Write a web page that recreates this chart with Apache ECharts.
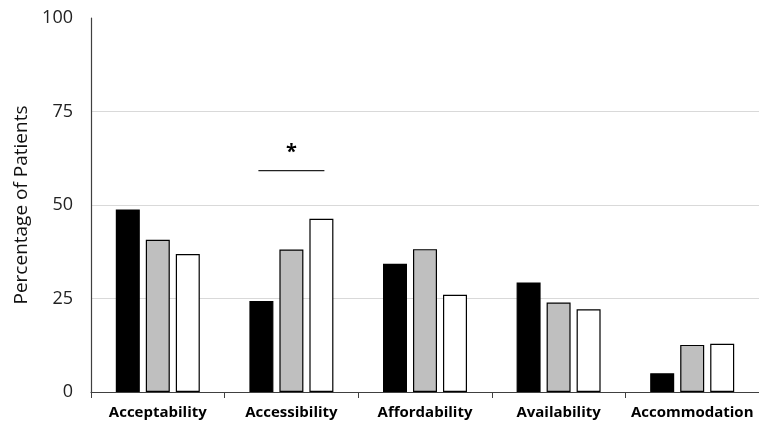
<!DOCTYPE html>
<html><head><meta charset="utf-8">
<script src="https://cdn.jsdelivr.net/npm/echarts@6/dist/echarts.min.js"></script>
<style>html,body{margin:0;padding:0;background:#fff}#c{width:759px;height:426px}</style>
</head><body><div id="c"></div>
<script>
const categories = ['Acceptability','Accessibility','Affordability','Availability','Accommodation'];
const seriesBlack = [48.8, 24.3, 34.3, 29.3, 5.0];
const seriesGray  = [40.7, 38.1, 38.2, 23.9, 12.6];
const seriesWhite = [36.9, 46.3, 26.0, 22.1, 12.9];
const yTicks = [0, 25, 50, 75, 100];
const sigCategory = 'Accessibility';
const sigValue = 59.2;
const sigLabel = '*';

const chart = echarts.init(document.getElementById('c'));
const font = 'Open Sans';
const barStyle = (fill) => ({ color: fill, borderColor: '#000', borderWidth: 1.2 });
chart.setOption({
  animation: false,
  grid: { left: 91, top: 18, bottom: 34, width: 677 },
  xAxis: {
    type: 'category', data: categories,
    axisLine: { lineStyle: { color: '#404040', width: 1.2 } },
    axisTick: { show: true, interval: 0, length: 6, lineStyle: { color: '#404040' } },
    axisLabel: { interval: 0, color: '#000', fontFamily: font, fontWeight: 'bold', fontSize: 15, margin: 13 }
  },
  yAxis: {
    type: 'value', min: yTicks[0], max: yTicks[yTicks.length-1], interval: 25,
    name: 'Percentage of Patients', nameLocation: 'middle', nameGap: 58, nameRotate: 90,
    nameTextStyle: { color: '#111', fontFamily: font, fontSize: 19 },
    axisLine: { show: true, lineStyle: { color: '#404040', width: 1.2 } },
    axisTick: { show: false },
    axisLabel: { color: '#222', fontFamily: font, fontSize: 18, margin: 18 },
    splitLine: { show: true, lineStyle: { color: ['#d9d9d9','#d9d9d9','#d9d9d9','#d9d9d9','rgba(0,0,0,0)'], width: 1 } }
  },
  series: [
    { type: 'bar', data: seriesBlack, barWidth: 24, barGap: '25%', itemStyle: barStyle('#000') },
    { type: 'bar', data: seriesGray, barWidth: 24, barGap: '25%', itemStyle: barStyle('#bfbfbf') },
    { type: 'bar', data: seriesWhite, barWidth: 24, barGap: '25%', itemStyle: barStyle('#fff') }
  ]
});
const cx = chart.convertToPixel({ xAxisIndex: 0 }, sigCategory);
const cy = chart.convertToPixel({ yAxisIndex: 0 }, sigValue);
const half = 33;
chart.setOption({
  graphic: [
    { type: 'line', shape: { x1: cx - half, y1: cy, x2: cx + half, y2: cy }, style: { stroke: '#222', lineWidth: 1.2 } },
    { type: 'text', x: cx, y: cy - 8, style: { text: sigLabel, fontFamily: font, fontSize: 20, fontWeight: 'bold', fill: '#000', align: 'center', verticalAlign: 'bottom' } }
  ]
});
</script></body></html>
